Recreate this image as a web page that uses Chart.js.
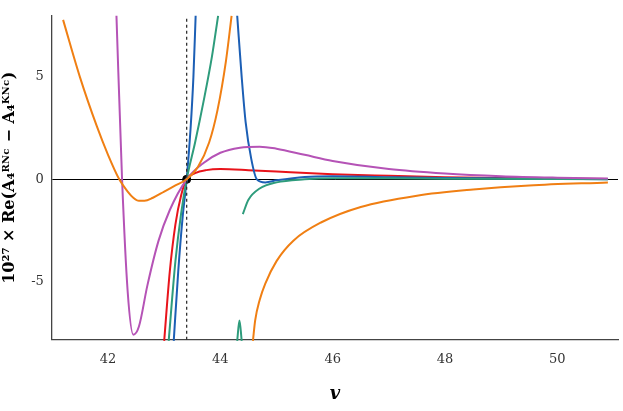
<!DOCTYPE html>
<html>
<head>
<meta charset="utf-8">
<script src="https://cdn.jsdelivr.net/npm/chart.js@4"></script>
<style>
  body { margin: 0; background: #fff; }
  #wrap { width: 623px; height: 411px; }
</style>
</head>
<body>
<div id="wrap"><canvas id="c"></canvas></div>
<script>
// Values
const orangeAX = [41.2, 41.5, 41.8, 42.0, 42.2, 42.35, 42.45, 42.55, 42.65, 42.8, 43.0, 43.2, 43.4, 43.6, 43.8, 43.95, 44.1, 44.2];
const orangeAY = [7.8, 5.0, 2.6, 1.2, 0.0, -0.6, -0.9, -1.05, -1.05, -0.9, -0.6, -0.3, 0.0, 0.6, 1.8, 3.4, 5.8, 8.0];
const orangeBX = [44.58, 44.62, 44.7, 44.8, 45.0, 45.3, 45.8, 46.5, 47.5, 48.5, 49.5, 50.9];
const orangeBY = [-7.9, -6.9, -5.9, -5.1, -4.0, -3.0, -2.1, -1.35, -0.8, -0.5, -0.3, -0.15];
const magentaX = [42.15, 42.25, 42.35, 42.45, 42.55, 42.7, 42.9, 43.1, 43.4, 43.7, 44.0, 44.35, 44.7, 45.0, 45.5, 46.0, 47.0, 48.0, 49.0, 50.0, 50.9];
const magentaY = [8.0, 0.0, -5.5, -7.6, -7.2, -5.2, -3.0, -1.5, 0.0, 0.8, 1.3, 1.55, 1.6, 1.5, 1.2, 0.9, 0.5, 0.28, 0.15, 0.08, 0.04];
const greenAX = [43.08, 43.2, 43.3, 43.4, 43.55, 43.7, 43.85, 43.96];
const greenAY = [-7.9, -4.0, -1.7, 0.0, 1.8, 3.8, 6.0, 8.0];
const greenSpikeX = [44.3, 44.34, 44.38];
const greenSpikeY = [-7.9, -6.9, -7.9];
const greenBX = [44.4, 44.5, 44.7, 45.0, 45.5, 46.0, 47.0, 48.0, 50.9];
const greenBY = [-1.7, -1.0, -0.45, -0.15, 0.0, 0.05, 0.05, 0.03, 0.01];
const blueAX = [43.17, 43.25, 43.33, 43.4, 43.47, 43.52, 43.56];
const blueAY = [-7.9, -4.5, -1.8, 0.0, 2.5, 5.0, 8.0];
const blueBX = [44.3, 44.38, 44.45, 44.55, 44.65, 44.8, 45.0, 45.5, 46.0, 47.0, 48.0, 50.9];
const blueBY = [8.0, 5.0, 2.8, 1.0, 0.0, -0.15, -0.05, 0.12, 0.15, 0.1, 0.06, 0.01];
const redX = [43.0, 43.1, 43.2, 43.3, 43.4, 43.55, 43.75, 44.0, 44.5, 45.0, 46.0, 47.0, 48.0, 49.0, 50.9];
const redY = [-7.9, -4.5, -2.2, -0.8, 0.0, 0.3, 0.45, 0.5, 0.45, 0.38, 0.25, 0.17, 0.1, 0.06, 0.02];
const dashX = [43.4, 43.4];
const dashY = [-7.85, 8.0];
const pointX = [43.4];
const pointY = [0];
const xTicks = [42, 44, 46, 48, 50];
const yTicks = [-5, 0, 5];

const pts = (xs, ys) => xs.map((x, i) => ({ x: x, y: ys[i] }));
const curve = (xs, ys, color) => ({
  data: pts(xs, ys), showLine: true, borderColor: color, borderWidth: 2,
  pointRadius: 0, cubicInterpolationMode: 'monotone', fill: false
});

const ctx = document.getElementById("c").getContext("2d");
const chart = new Chart(ctx, {
  type: "scatter",
  data: {
    datasets: [
      { data: pts(dashX, dashY), showLine: true, borderColor: "#333", borderWidth: 1.3, borderDash: [3, 3], pointRadius: 0 },
      curve(orangeAX, orangeAY, "#f07f13"),
      curve(orangeBX, orangeBY, "#f07f13"),
      curve(magentaX, magentaY, "#b553b6"),
      curve(greenAX, greenAY, "#2e9c7c"),
      curve(greenSpikeX, greenSpikeY, "#2e9c7c"),
      curve(greenBX, greenBY, "#2e9c7c"),
      curve(blueAX, blueAY, "#1c5fb5"),
      curve(blueBX, blueBY, "#1c5fb5"),
      curve(redX, redY, "#e8141b"),
      { data: pts(pointX, pointY), pointRadius: 4, backgroundColor: "#000", borderColor: "#000" }
    ]
  },
  options: {
    responsive: true,
    maintainAspectRatio: false,
    animation: false,
    clip: false,
    layout: { padding: { top: -14, right: 2, left: 0, bottom: 6 } },
    plugins: { legend: { display: false }, tooltip: { enabled: false } },
    scales: {
      x: {
        min: 41.0, max: 51.08,
        afterBuildTicks: axis => { axis.ticks = xTicks.map(v => ({ value: v })); },
        grid: { display: false, drawTicks: false },
        border: { color: "#444", width: 1.3 },
        ticks: { color: "#333", padding: 12, font: { family: "DejaVu Serif", size: 13 } },
        title: { display: true, text: "v", color: "#000", padding: { top: 4, bottom: 0 },
                 font: { family: "DejaVu Serif", size: 18, style: "italic", weight: "bold" } }
      },
      y: {
        min: -7.85, max: 8.0,
        afterBuildTicks: axis => { axis.ticks = yTicks.map(v => ({ value: v })); },
        grid: { drawTicks: false, color: c => c.tick && c.tick.value === 0 ? "#000" : "rgba(0,0,0,0)", lineWidth: 1 },
        border: { color: "#444", width: 1.3 },
        ticks: { color: "#333", padding: 8, font: { family: "DejaVu Serif", size: 13 } },
        title: { display: true, text: "10²⁷ × Re(A₄ᴿᴺᶜ − A₄ᴷᴺᶜ)", color: "#000", padding: { top: 0, bottom: 4 },
                 font: { family: "DejaVu Serif", size: 16, weight: "bold" } }
      }
    }
  }
});
</script>
</body>
</html>
